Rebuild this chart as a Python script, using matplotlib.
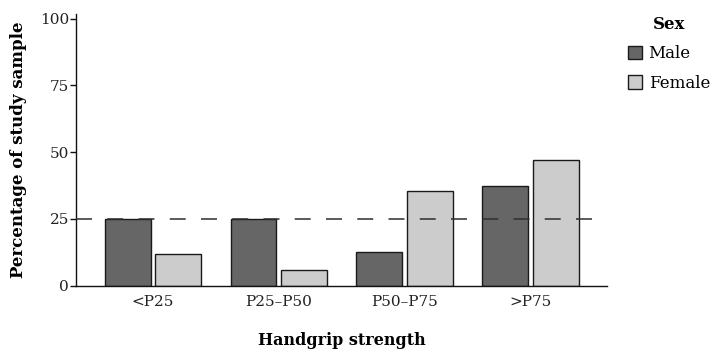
import matplotlib
matplotlib.use("Agg")
import matplotlib.pyplot as plt
import numpy as np
from matplotlib.patches import Patch

# ---------------------------------------------------------------------------
# Data
# ---------------------------------------------------------------------------
categories = ["<P25", "P25\u2013P50", "P50\u2013P75", ">P75"]
male = [25.0, 25.0, 12.5, 37.5]
female = [11.8, 5.9, 35.3, 47.1]
reference_level = 25
y_ticks = [0, 25, 50, 75, 100]

MALE_COLOR = "#666666"
FEMALE_COLOR = "#cccccc"
EDGE = "#1a1a1a"

plt.rcParams["font.family"] = ["DejaVu Serif"]
plt.rcParams["lines.scale_dashes"] = False

fig = plt.figure(figsize=(7.15, 3.51), dpi=100)
ax = fig.add_axes([0.1063, 0.186, 0.743, 0.774])

x = np.arange(len(categories))
offset = 0.2
width = 0.365
ax.bar(x - offset, male, width, color=MALE_COLOR, edgecolor=EDGE, linewidth=1.0, zorder=2)
ax.bar(x + offset, female, width, color=FEMALE_COLOR, edgecolor=EDGE, linewidth=1.0, zorder=2)

ax.axhline(reference_level, color="#2e2e2e", linewidth=1.1, dashes=(11.5, 11.0), zorder=3)

ax.set_xlim(-0.61, 3.61)
ax.set_ylim(0, 101.7)
ax.set_xticks(x)
ax.set_xticklabels(categories, fontsize=11, color="#222222")
ax.set_yticks(y_ticks)
ax.set_yticklabels([str(t) for t in y_ticks], fontsize=11, color="#222222")
ax.tick_params(axis="x", length=0, pad=7)
ax.tick_params(axis="y", length=4, width=1.0, pad=1, color="#111111")

for side in ["top", "right"]:
    ax.spines[side].set_visible(False)
for side in ["bottom", "left"]:
    ax.spines[side].set_linewidth(1.0)
    ax.spines[side].set_color("#111111")

ax.set_xlabel("Handgrip strength", fontsize=11.5, fontweight="bold", labelpad=16)
ax.set_ylabel("Percentage of study sample", fontsize=12, fontweight="bold", labelpad=9)

handles = [
    Patch(facecolor=MALE_COLOR, edgecolor=EDGE, linewidth=1.0, label="Male"),
    Patch(facecolor=FEMALE_COLOR, edgecolor=EDGE, linewidth=1.0, label="Female"),
]
leg = ax.legend(
    handles=handles,
    title="Sex",
    loc="upper left",
    bbox_to_anchor=(0.878, 0.955),
    bbox_transform=fig.transFigure,
    frameon=False,
    fontsize=12,
    title_fontproperties={"weight": "bold", "size": 12},
    handlelength=0.85,
    handleheight=0.85,
    handletextpad=0.4,
    labelspacing=0.75,
    borderaxespad=0,
    borderpad=0,
)
leg._legend_box.sep = 9

fig.savefig("out.png", dpi=100)
